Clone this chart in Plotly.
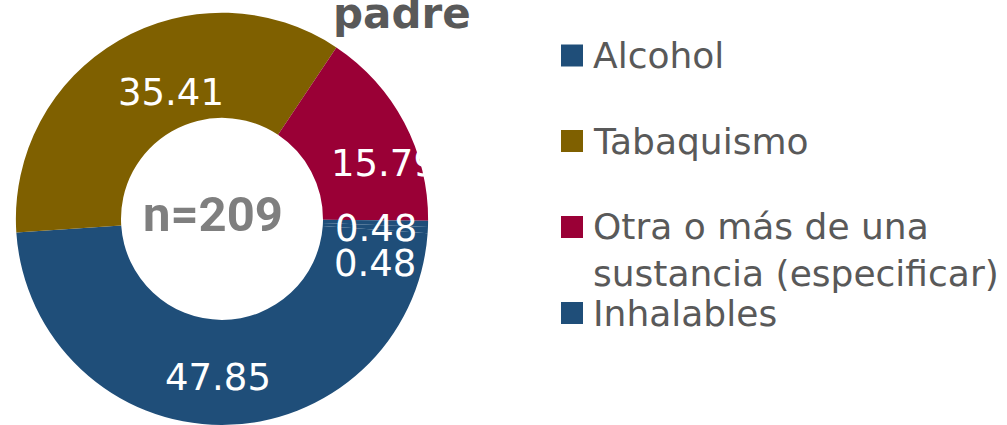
import math
import plotly.graph_objects as go

# ---- data ----
categories = ["Alcohol", "Tabaquismo", "Otra o más de una sustancia (especificar)", "Inhalables", "Otras drogas"]
values = [47.85, 35.41, 15.79, 0.48, 0.48]
value_labels = ["47.85", "35.41", "15.79", "0.48", "0.48"]
legend_labels = ["Alcohol", "Tabaquismo", "Otra o más de una<br>sustancia (especificar)", "Inhalables"]
center_label = "n=209"
title_text = "padre"

# ---- style ----
colors = ["#1F4E79", "#7F6000", "#9A0036", "#1F4E79", "#1F4E79"]
W, H = 1007, 425
ROT = 94
HOLE = 0.49
dom_x = [14 / W, 430 / W]
dom_y = [0.0, 0.97]
label_nudges = [(-4, 5), (26, 7), (26, 16), (0, 6), (0, 36)]  # pixel nudges for label placement
label_font = dict(family="DejaVu Sans", size=37, color="white")
legend_font = dict(family="DejaVu Sans", size=36, color="#595959")

fig = go.Figure()
fig.add_trace(go.Pie(
    labels=categories, values=values, hole=HOLE, sort=False,
    direction="clockwise", rotation=ROT,
    marker=dict(colors=colors, line=dict(width=0)),
    textinfo="none", showlegend=False, hoverinfo="label+value",
    domain=dict(x=dom_x, y=dom_y),
))

# pie geometry in pixels (derived from domain)
dw = (dom_x[1] - dom_x[0]) * W
dh = (dom_y[1] - dom_y[0]) * H
R = min(dw, dh) / 2
cx = (dom_x[0] + dom_x[1]) / 2 * W
cy = H - (dom_y[0] + dom_y[1]) / 2 * H
r_lab = R * (1 + HOLE) / 2

total = sum(values)
cum = 0.0
annotations = []
for v, txt, (nx, ny) in zip(values, value_labels, label_nudges):
    mid = math.radians(ROT + 360 * (cum + v / 2) / total)
    cum += v
    px = cx + r_lab * math.sin(mid) + nx
    py = cy - r_lab * math.cos(mid) + ny
    annotations.append(dict(x=px / W, y=1 - py / H, xref="paper", yref="paper",
                            text=txt, showarrow=False, font=label_font,
                            xanchor="center", yanchor="middle"))

# center label
annotations.append(dict(x=(cx - 9) / W, y=1 - (cy - 4.5) / H, xref="paper", yref="paper",
                        text=f"<b>{center_label}</b>", showarrow=False,
                        font=dict(family="Roboto", size=49, color="#7F7F7F"),
                        xanchor="center", yanchor="middle"))

# title (cut at top)
annotations.append(dict(x=401.5 / W, y=1 - 13.5 / H, xref="paper", yref="paper",
                        text=f"<b>{title_text}</b>", showarrow=False,
                        font=dict(family="DejaVu Sans", size=42, color="#595959"),
                        xanchor="center", yanchor="middle"))

# manual legend
legend_colors = colors[:4]
sq_centers = [55.5, 141, 227, 313]
text_centers = [55.5, 141, 249.5, 313]
shapes = []
for lab, col, sc, tc in zip(legend_labels, legend_colors, sq_centers, text_centers):
    shapes.append(dict(type="rect", xref="paper", yref="paper",
                       x0=561 / W, x1=583 / W, y0=1 - (sc + 11) / H, y1=1 - (sc - 11) / H,
                       fillcolor=col, line=dict(width=0)))
    annotations.append(dict(x=591 / W, y=1 - tc / H, xref="paper", yref="paper",
                            text=lab, showarrow=False, font=legend_font,
                            xanchor="left", yanchor="middle", align="left"))

fig.update_layout(
    width=W, height=H, margin=dict(l=0, r=0, t=0, b=0),
    paper_bgcolor="white", plot_bgcolor="white",
    annotations=annotations, shapes=shapes,
)

fig.write_html("out.html", config={"displayModeBar": False},
               post_script="document.body.style.margin='0';document.body.style.overflow='hidden';")
